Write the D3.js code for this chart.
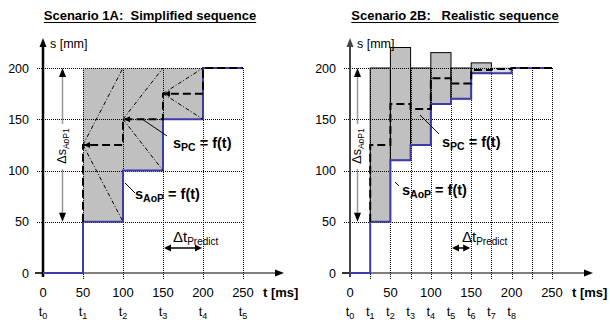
<!DOCTYPE html>
<meta charset="utf-8">
<head>
<style>
  body { margin: 0; background: #fff; }
  text { font-family: "Liberation Sans", Arial, sans-serif; fill: #000; white-space: pre; }
  .grid { stroke: #000; stroke-width: 1; stroke-dasharray: 1,1; fill: none; shape-rendering: crispEdges; }
  .aop { stroke: #3b3bab; stroke-width: 2; fill: none; }
  .pc { stroke: #000; stroke-width: 2; stroke-dasharray: 8,4; fill: none; }
  .fan { stroke: #000; stroke-width: 1; stroke-dasharray: 4,2,1,2; fill: none; }
  .lead { stroke: #000; stroke-width: 1; }
</style>
</head>
<body>
<script src="https://d3js.org/d3.v7.min.js"></script>
<script>
// shared
var yTicks = [0, 50, 100, 150, 200];
var xTicks = [0, 50, 100, 150, 200, 250];

// scenario 1A: simplified sequence
var gridA = [50, 100, 150, 200, 250];
var tNameTimesA = [0, 50, 100, 150, 200, 250];
var tNamesA = ["0", "1", "2", "3", "4", "5"];
var stepTimesA = [0, 50, 100, 150, 200, 250];
var aopA = [0, 50, 100, 150, 200, 200];
var pcTimesA = [50, 50, 100, 150, 200, 250];
var pcA = [50, 125, 150, 175, 200, 200];

// scenario 2B: realistic sequence
var gridB = [25, 50, 75, 100, 125, 150, 175, 200, 225, 250];
var tNameTimesB = [0, 25, 50, 75, 100, 125, 150, 175, 200];
var tNamesB = ["0", "1", "2", "3", "4", "5", "6", "7", "8"];
var stepTimesB = [0, 25, 50, 75, 100, 125, 150, 175, 200, 250];
var aopB = [0, 50, 110, 125, 165, 170, 195, 195, 200, 200];
var pcTimesB = [25, 25, 50, 75, 100, 125, 150, 175, 200, 250];
var pcB = [50, 125, 165, 160, 190, 185, 198, 199, 200, 200];
var boxStartB = [25, 50, 75, 100, 125, 150, 175];
var boxTopB = [200, 220, 200, 215, 200, 205, 200];

var svg = d3.select("body").append("svg")
    .attr("width", 610)
    .attr("height", 323);

var y = d3.scaleLinear().domain([0, 200]).range([273, 68]);
var xA = d3.scaleLinear().domain([0, 250]).range([43, 243]);
var xB = d3.scaleLinear().domain([0, 250]).range([350, 552]);

function stepPath(x, ts, vs) {
  return d3.line()
      .curve(d3.curveStepAfter)
      .x(function(d, i) { return x(ts[i]); })
      .y(function(d) { return y(d); })(vs);
}

// filled triangle arrow head
function head(g, tx, ty, dir, len, half, color) {
  var p;
  if (dir == "up") p = [[tx, ty], [tx - half, ty + len], [tx + half, ty + len]];
  if (dir == "down") p = [[tx, ty], [tx - half, ty - len], [tx + half, ty - len]];
  if (dir == "left") p = [[tx, ty], [tx + len, ty - half], [tx + len, ty + half]];
  if (dir == "right") p = [[tx, ty], [tx - len, ty - half], [tx - len, ty + half]];
  g.append("path").attr("d", "M" + p.join("L") + "Z").attr("fill", color || "#000");
}

// text with subscripts
function subText(g, px, py, parts, anchor, transform) {
  var t = g.append("text")
      .attr("x", px).attr("y", py)
      .attr("xml:space", "preserve")
      .attr("text-anchor", anchor || "start");
  if (transform) t.attr("transform", transform);
  var shift = 0;
  parts.forEach(function(p) {
    var s = p.sub ? p.sub : 0;
    t.append("tspan")
        .attr("dy", s - shift)
        .style("font-size", p.size + "px")
        .style("font-weight", p.bold ? "bold" : "normal")
        .text(p.t);
    shift = s;
  });
  return t;
}

function frame(g, x, o) {
  var x0 = x(0), y0 = y(0);

  g.selectAll(".hgrid")
      .data(yTicks.filter(function(d) { return d > 0; }))
    .enter().append("line")
      .attr("class", "grid")
      .attr("x1", x0 - 6).attr("x2", x(250))
      .attr("y1", function(d) { return Math.round(y(d)) + 0.5; })
      .attr("y2", function(d) { return Math.round(y(d)) + 0.5; });

  g.selectAll(".vgrid")
      .data(o.grid)
    .enter().append("line")
      .attr("class", "grid")
      .attr("x1", function(d) { return Math.round(x(d)) + 0.5; })
      .attr("x2", function(d) { return Math.round(x(d)) + 0.5; })
      .attr("y1", y(200)).attr("y2", y0 + 7);

  // y labels
  g.selectAll(".ylab")
      .data(yTicks)
    .enter().append("text")
      .attr("x", o.yLabX)
      .attr("y", function(d) { return y(d) + 4.5; })
      .attr("text-anchor", "end")
      .style("font-size", "12.5px")
      .text(function(d) { return d; });

  // x labels
  g.selectAll(".xlab")
      .data(xTicks)
    .enter().append("text")
      .attr("x", function(d) { return x(d); })
      .attr("y", 297)
      .attr("text-anchor", "middle")
      .style("font-size", "13px")
      .text(function(d) { return d; });

  o.tTimes.forEach(function(t, i) {
    subText(g, x(t), 316, [{t: "t", size: 13}, {t: o.tNames[i], size: 9, sub: 3}], "middle");
  });

  g.append("text")
      .attr("x", x(250) + 20).attr("y", 297)
      .style("font-size", "13px").style("font-weight", "bold")
      .text("t [ms]");

  // axes
  g.append("line")
      .attr("x1", x0 - 8).attr("x2", x(250) + 34)
      .attr("y1", y0).attr("y2", y0)
      .attr("stroke", "#000").attr("stroke-width", 1.2);
  head(g, x(250) + 41, y0, "right", 9, 3.5);
  g.append("line")
      .attr("x1", x0 - 8).attr("x2", x0)
      .attr("y1", y0).attr("y2", y0)
      .attr("stroke", "#000").attr("stroke-width", 1.2);

  g.append("line")
      .attr("x1", x0).attr("x2", x0)
      .attr("y1", y0 + 4).attr("y2", 44)
      .attr("stroke", o.axisColor).attr("stroke-width", o.axisWidth);
  head(g, x0, 38, "up", 9, 3.5, o.axisColor);

  g.append("text")
      .attr("x", x0 + 7).attr("y", 48)
      .style("font-size", "12.5px")
      .text("s [mm]");

  // title, underlined
  var title = g.append("text")
      .attr("x", o.titleX).attr("y", 20)
      .attr("xml:space", "preserve")
      .attr("text-anchor", "middle")
      .style("font-size", "13px").style("font-weight", "bold")
      .text(o.title);
  var bb = title.node().getBBox();
  g.append("line")
      .attr("x1", bb.x).attr("x2", bb.x + bb.width)
      .attr("y1", 22.5).attr("y2", 22.5)
      .attr("stroke", "#000").attr("stroke-width", 1.2);

  // delta s arrows
  var ax = o.dsX;
  g.append("line").attr("x1", ax).attr("x2", ax).attr("y1", 124).attr("y2", y(200) + 8)
      .attr("stroke", "#999").attr("stroke-width", 1.5);
  head(g, ax, y(200), "up", 9, 3.5);
  g.append("line").attr("x1", ax).attr("x2", ax).attr("y1", 169).attr("y2", y(50) - 8)
      .attr("stroke", "#999").attr("stroke-width", 1.5);
  head(g, ax, y(50), "down", 9, 3.5);
  subText(g, 0, 0, [{t: "\u0394s", size: 12.5}, {t: "AoP1", size: 8.5, sub: 3}], "middle",
      "translate(" + (ax + 3.5) + ",146) rotate(-90)");

  // delta t predict
  var t1 = x(o.dt[0]), t2 = x(o.dt[1]);
  g.append("line").attr("x1", t1 + 6).attr("x2", t2 - 6).attr("y1", 248).attr("y2", 248)
      .attr("stroke", "#000").attr("stroke-width", 1.5);
  head(g, t1 + 1, 248, "left", 7, 3.5);
  head(g, t2 - 1, 248, "right", 7, 3.5);
  subText(g, o.dtLab[0], o.dtLab[1], [{t: "\u0394t", size: 15}, {t: "Predict", size: 10, sub: 3}]);
}

function labels(g, o) {
  g.append("line").attr("class", "lead")
      .attr("x1", o.pcLead[0]).attr("y1", o.pcLead[1]).attr("x2", o.pcLead[2]).attr("y2", o.pcLead[3]);
  subText(g, o.pcLab[0], o.pcLab[1],
      [{t: "s", size: 14.5, bold: true}, {t: "PC", size: 10.5, bold: true, sub: 3}, {t: " = f(t)", size: 14.5, bold: true}]);
  g.append("line").attr("class", "lead")
      .attr("x1", o.aopLead[0]).attr("y1", o.aopLead[1]).attr("x2", o.aopLead[2]).attr("y2", o.aopLead[3]);
  subText(g, o.aopLab[0], o.aopLab[1],
      [{t: "s", size: 14.5, bold: true}, {t: "AoP", size: 10.5, bold: true, sub: 3}, {t: " = f(t)", size: 14.5, bold: true}]);
}

// ---------- scenario 1A ----------
var gA = svg.append("g");

// gray region between s_AoP and 200
gA.append("path")
    .attr("d", d3.area()
        .curve(d3.curveStepAfter)
        .x(function(d, i) { return xA(stepTimesA.slice(1, 5)[i]); })
        .y0(function(d) { return y(d); })
        .y1(y(200))(aopA.slice(1, 5)))
    .attr("fill", "#c0c0c0");

frame(gA, xA, {
  grid: gridA, tTimes: tNameTimesA, tNames: tNamesA, yLabX: 29,
  axisColor: "#000", axisWidth: 2.5, titleX: 150,
  title: "Scenario 1A:  Simplified sequence",
  dsX: 62.5, dt: [150, 200], dtLab: [173, 242]
});

gA.append("path").attr("class", "aop").attr("d", stepPath(xA, stepTimesA, aopA));

// prediction fans from each predicted point
for (var i = 1; i < 4; i++) {
  var t0 = pcTimesA[i], t1 = pcTimesA[i + 1], v = pcA[i];
  var low = aopA[stepTimesA.indexOf(t0)];
  gA.append("line").attr("class", "fan")
      .attr("x1", xA(t0)).attr("y1", y(v)).attr("x2", xA(t1)).attr("y2", y(200));
  gA.append("line").attr("class", "fan")
      .attr("x1", xA(t0)).attr("y1", y(v)).attr("x2", xA(t1)).attr("y2", y(low));
}

gA.append("path").attr("class", "pc").attr("d", stepPath(xA, pcTimesA, pcA));

for (var j = 1; j < 4; j++) {
  head(gA, xA(pcTimesA[j]) + 1, y(pcA[j]), "left", 6, 3);
}

labels(gA, {
  pcLead: [142, 119, 167, 136], pcLab: [173, 148],
  aopLead: [125, 183, 135, 193], aopLab: [135, 198.5]
});

// ---------- scenario 2B ----------
var gB = svg.append("g");

gB.selectAll(".box")
    .data(boxStartB)
  .enter().append("rect")
    .attr("x", function(d) { return xB(d); })
    .attr("width", function(d) { return xB(d + 25) - xB(d); })
    .attr("y", function(d, i) { return y(boxTopB[i]); })
    .attr("height", function(d, i) { return y(aopB[stepTimesB.indexOf(d)]) - y(boxTopB[i]); })
    .attr("fill", function(d, i) { return i == 6 ? "#dcdcdc" : "#c0c0c0"; })
    .attr("stroke", function(d, i) { return i == 6 ? "#aaa" : "#000"; })
    .attr("stroke-width", 1);

frame(gB, xB, {
  grid: gridB, tTimes: tNameTimesB, tNames: tNamesB, yLabX: 336,
  axisColor: "#444", axisWidth: 2, titleX: 455,
  title: "Scenario 2B:   Realistic sequence",
  dsX: 357.5, dt: [125, 150], dtLab: [462, 242]
});

gB.append("path").attr("class", "aop").attr("d", stepPath(xB, stepTimesB, aopB));
gB.append("path").attr("class", "pc").attr("d", stepPath(xB, pcTimesB, pcB));

labels(gB, {
  pcLead: [420, 115, 439, 134], pcLab: [442, 147],
  aopLead: [395, 182, 399, 186], aopLab: [402, 194.5]
});
</script>
</body>
